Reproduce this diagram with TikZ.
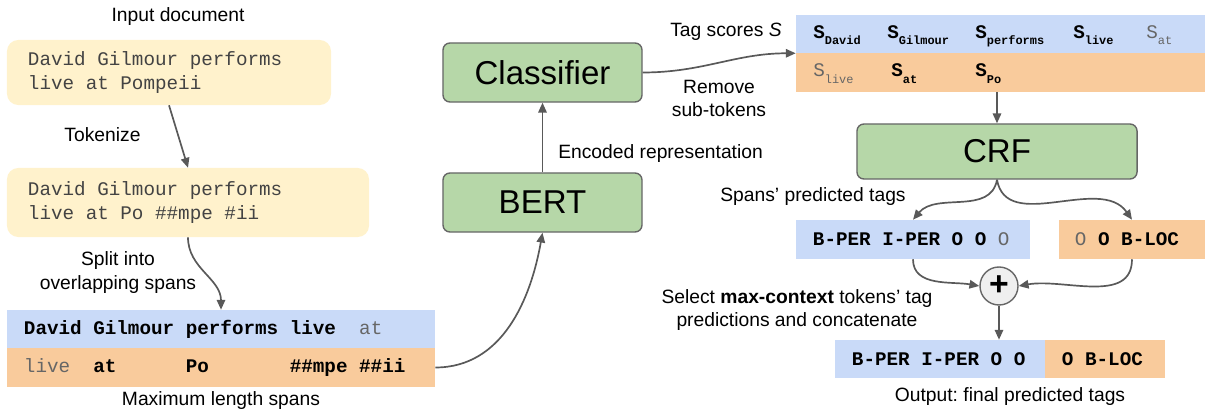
\documentclass[tikz,border=0pt]{standalone}
\usepackage{fontspec}
\setmainfont{Liberation Sans}
\setmonofont{Liberation Mono}
\usetikzlibrary{positioning, arrows.meta}
\usetikzlibrary{calc}
\frenchspacing

\definecolor{docyellow}{HTML}{FFF2CC}
\definecolor{spanblue}{HTML}{C9DAF8}
\definecolor{spanorange}{HTML}{F9CB9C}
\definecolor{modelgreen}{HTML}{B6D7A8}
\definecolor{edgegray}{HTML}{666666}
\definecolor{arrowgray}{HTML}{595959}
\definecolor{tokgray}{HTML}{666666}
\definecolor{doctext}{HTML}{434343}
\definecolor{plusgray}{HTML}{EFEFEF}

% scores: bold S with subscript, gray S with subscript
\newcommand{\Sb}[1]{\textbf{S\raisebox{-4.5pt}{\fontsize{8.5}{9}\selectfont #1}}}
\newcommand{\Sg}[1]{\textcolor{tokgray}{S\raisebox{-4.5pt}{\fontsize{8.5}{9}\selectfont #1}}}
\newcommand{\gr}[1]{\textcolor{tokgray}{\mdseries #1}}
% one (or n) monospace blank(s)
\newlength{\tsw}
\setlength{\tsw}{8.22pt}
\newcommand{\ms}[1][1]{\hspace*{#1\tsw}}
\newcommand{\monofont}[1]{\ttfamily\fontsize{13.7}{#1}\selectfont}

\begin{document}
\begin{tikzpicture}[>={Triangle[length=7pt,width=6pt]},
    x=0.025cm, y=-0.025cm,
    every node/.style={font=\fontsize{13.7}{16.5}\selectfont},
    lbl/.style={inner sep=0pt, align=center},
    doc/.style={fill=docyellow, rounded corners=8pt, text=doctext, align=left,
        font=\monofont{17.5}, inner xsep=0.525cm},
    model/.style={draw=edgegray, line width=1pt, fill=modelgreen, rounded corners=5pt,
        font=\fontsize{23.5}{28}\selectfont, minimum width=4.975cm, minimum height=1.475cm},
    row/.style={font=\bfseries\monofont{16}, align=left,
        inner xsep=0.425cm, inner ysep=0pt},
    score/.style={anchor=base west, inner sep=0pt, font=\monofont{16}},
    flow/.style={->, draw=arrowgray, line width=1.2pt}
]
\useasboundingbox (0,0) rectangle (1205,412);

% Input document and tokens
\node (inlabel) [lbl] at (178,17) {Input document};
\node (doc) [doc, text width=7.05cm, minimum height=1.625cm] at (169,72.5)
    {David\ms Gilmour\ms performs\\live\ms at\ms Pompeii};
\node (toklabel) [lbl] at (102.5,135) {Tokenize};
\node (tok) [doc, text width=8.0cm, minimum height=1.725cm] at (188,202.5)
    {David\ms Gilmour\ms performs\\live\ms at\ms Po\ms\#\#mpe\ms\#ii};
\node (splitlabel) [lbl] at (118,272.5) {Split into\\overlapping spans};

% Spans
\node (sp1) [row, fill=spanblue, text width=9.85cm, minimum height=0.95cm] at (221,329)
    {David\ms Gilmour\ms performs\ms live\ms[2]\gr{at}};
\node (sp2) [row, fill=spanorange, text width=9.85cm, minimum height=0.975cm] at (221,367.5)
    {\gr{live}\ms[2]at\ms[6]Po\ms[7]\#\#mpe\ms\#\#ii};
\node (maxlabel) [lbl] at (221,401) {Maximum length spans};

% Model
\node (bert) [model] at (542.5,202.5) {BERT};
\node (cls) [model] at (542.5,72.5) {Classifier};
\node (enclabel) [lbl, anchor=west] at (558,154) {Encoded representation};
\node (taglabel) [lbl] at (726,32) {Tag scores \textit{S}};
\node (remlabel) [lbl] at (719,98.5) {Remove\\sub-tokens};

% Tag scores
\node (sc1) [fill=spanblue, minimum width=10.225cm, minimum height=0.95cm, inner sep=0pt] at (1000.5,34) {};
\node (sc2) [fill=spanorange, minimum width=10.225cm, minimum height=0.975cm, inner sep=0pt] at (1000.5,72.5) {};
\node (sDavid) [score] at (813,38.5) {\Sb{David}};
\node (sGilmour) [score] at (887,38.5) {\Sb{Gilmour}};
\node (sPerforms) [score] at (975,38.5) {\Sb{performs}};
\node (sLive) [score] at (1073,38.5) {\Sb{live}};
\node (sAt) [score] at (1146,38.5) {\Sg{at}};
\node (sLive2) [score] at (813,77) {\Sg{live}};
\node (sAt2) [score] at (891,77) {\Sb{at}};
\node (sPo) [score] at (975,77) {\Sb{Po}};

% CRF and predicted tags
\node (crf) [model, minimum width=7cm, minimum height=1.375cm] at (997,151.5) {CRF};
\node (spanlabel) [lbl] at (813,197) {Spans' predicted tags};
\node (tagl) [row, fill=spanblue, text width=5.0cm, minimum height=0.975cm] at (913,239.5)
    {B-PER\ms I-PER\ms O\ms O\ms\gr{O}};
\node (tagr) [row, fill=spanorange, text width=2.85cm, inner xsep=0.4cm, minimum height=0.975cm] at (1132,239.5)
    {\gr{O}\ms O\ms B-LOC};
\node (plus) [circle, draw=edgegray, line width=1pt, fill=plusgray, minimum size=0.95cm, inner sep=0pt,
    font=\fontsize{24}{24}\selectfont\bfseries] at (999,286) {+};
\node (sellabel) [lbl] at (797,310) {Select \textbf{max-context} tokens' tag\\predictions and concatenate};
\node (outl) [row, fill=spanblue, text width=4.4cm, minimum height=0.95cm] at (940,359) {B-PER\ms I-PER\ms O\ms O};
\node (outr) [row, fill=spanorange, text width=2.15cm, minimum height=0.95cm] at (1105,359) {O\ms B-LOC};
\node (outlabel) [lbl] at (1010,397) {Output: final predicted tags};

% Connection arrows
\draw[flow] (doc.south) -- (tok.north);
\draw[flow] (tok.south) to[out=-90, in=90] (sp1.north);
\draw[flow] (sp2.east) to[out=0, in=-100] (bert.south);
\draw[flow] (bert) -- (cls);
\draw[flow] (cls.east) to[out=0, in=180] (sc1.south west);
\draw[flow] (sc2.south -| crf.north) -- (crf.north);
\draw[flow] (crf.south) to[out=-100, in=50] (tagl.north);
\draw[flow] (crf.south) to[out=-80, in=125] (tagr.north);
\draw[flow] (tagl.south) to[out=-90, in=170] (plus.west);
\draw[flow] (tagr.south) to[out=-90, in=10] (plus.east);
\draw[flow] (plus) -- (plus |- outl.north);

\end{tikzpicture}
\end{document}
